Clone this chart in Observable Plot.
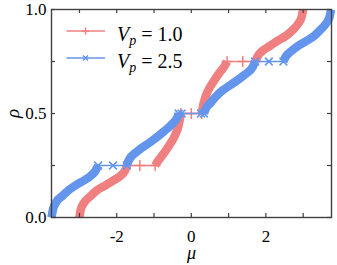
<!DOCTYPE html>
<html><head><meta charset="utf-8">
<script src="https://cdn.jsdelivr.net/npm/d3@7"></script>
<script src="https://cdn.jsdelivr.net/npm/@observablehq/plot@0.6"></script>
<style>
body{margin:0;background:#fff;}
#wrap{position:relative;width:337px;height:265px;overflow:hidden;}
#wrap svg text{font-family:"Liberation Serif","Times New Roman","DejaVu Serif",serif !important;}
.legline{position:absolute;left:64px;}
.legtxt{position:absolute;left:117px;font-family:"Liberation Serif","Times New Roman",serif;font-size:20px;line-height:20px;white-space:nowrap;color:#000;}
.legtxt i{font-style:italic;}
.legtxt .sub{font-style:italic;font-size:14px;position:relative;top:4px;}
</style></head><body><div id="wrap"></div>
<script>
// ---- data ----
const seriesLabels = ["1.0", "2.5"];
const seriesColors = ["#f08080", "#6495ed"];
const seriesSymbols = ["plus", "times"];
const plateauLevels = [0.25, 0.5, 0.75];

// Vp = 1.0 : continuous (dense) pieces, [mu, rho]
const redBand1 = [[-3.0,0],[-2.97,0.035],[-2.88,0.07],[-2.72,0.1],[-2.55,0.128],[-2.3,0.155],[-2.1,0.177],[-1.9,0.2],[-1.78,0.225],[-1.72,0.25]];
const redBand2 = [[-0.97,0.25],[-0.9,0.27],[-0.75,0.305],[-0.6,0.345],[-0.45,0.39],[-0.33,0.45],[-0.28,0.5]];
const redBand3 = [[0.28,0.5],[0.33,0.55],[0.45,0.61],[0.6,0.655],[0.75,0.695],[0.9,0.73],[0.96,0.75]];
const redBand4 = [[1.72,0.75],[1.78,0.775],[1.9,0.8],[2.1,0.824],[2.32,0.85],[2.55,0.875],[2.74,0.905],[2.88,0.935],[2.96,0.965],[3.0,1.0]];
// Vp = 1.0 : sparse points on the plateaus (mu), one list per plateau level
const redPlateauMu = [[-1.72,-1.38,-0.97],[-0.28,0,0.28],[0.96,1.38,1.72]];

// Vp = 2.5
const blueBand1 = [[-3.75,0],[-3.71,0.04],[-3.62,0.075],[-3.45,0.105],[-3.3,0.13],[-3.1,0.155],[-2.88,0.178],[-2.7,0.2],[-2.57,0.225],[-2.5,0.25]];
const blueBand2 = [[-1.73,0.25],[-1.68,0.275],[-1.45,0.318],[-1.1,0.362],[-0.73,0.415],[-0.5,0.452],[-0.38,0.48],[-0.34,0.5]];
const blueBand3 = [[0.34,0.5],[0.38,0.52],[0.5,0.548],[0.75,0.598],[1.1,0.643],[1.42,0.685],[1.65,0.725],[1.71,0.75]];
const blueBand4 = [[2.47,0.75],[2.54,0.775],[2.68,0.8],[2.86,0.825],[3.1,0.85],[3.3,0.874],[3.45,0.9],[3.6,0.93],[3.7,0.96],[3.75,1.0]];
const bluePlateauMu = [[-2.5,-2.1,-1.73],[-0.34,-0.26,0.26,0.34],[1.71,2.08,2.47]];

const xTicksMajor = [-2, 0, 2];
const xTicksAll = [-3, -2, -1, 0, 1, 2, 3];
const yTicksMajor = [0, 0.5, 1];
const yTicksAll = [0, 0.25, 0.5, 0.75, 1];

// ---- tables ----
const bands = [];
[[redBand1, redBand2, redBand3, redBand4], [blueBand1, blueBand2, blueBand3, blueBand4]].forEach((segs, s) =>
  segs.forEach((seg, k) => seg.forEach(([mu, rho]) => bands.push({mu, rho, s, seg: s * 10 + k}))));
const plateaus = [];
[redPlateauMu, bluePlateauMu].forEach((levels, s) =>
  levels.forEach((mus, k) => mus.forEach(mu => plateaus.push({mu, rho: plateauLevels[k], s, seg: s * 10 + k}))));

const W = 337, H = 265, mL = 51, mR = 6, mT = 9, mB = 48;
const pw = W - mL - mR, ph = H - mT - mB;
const font = "'Liberation Serif', 'Times New Roman', serif";
const axisCol = "#404040";

const marks = [];
for (let s = 0; s < 2; s++) {
  const b = bands.filter(d => d.s === s), p = plateaus.filter(d => d.s === s);
  marks.push(Plot.line(p, {x: "mu", y: "rho", z: "seg", stroke: seriesColors[s], strokeWidth: 1.5}));
  marks.push(Plot.dot(p, {x: "mu", y: "rho", symbol: seriesSymbols[s], r: 3.6, stroke: seriesColors[s], strokeWidth: 1.5}));
  marks.push(Plot.line(b, {x: "mu", y: "rho", z: "seg", stroke: seriesColors[s], strokeWidth: 8.5, curve: "monotone-x", strokeLinecap: "butt"}));
}
marks.push(
  Plot.ruleX(xTicksAll, {x: d => d, insetTop: ph - 4, stroke: axisCol, strokeWidth: 1.2}),
  Plot.ruleX(xTicksAll, {x: d => d, insetBottom: ph - 4, stroke: axisCol, strokeWidth: 1.2}),
  Plot.ruleY(yTicksAll, {y: d => d, insetRight: pw - 4, stroke: axisCol, strokeWidth: 1.2}),
  Plot.ruleY(yTicksAll, {y: d => d, insetLeft: pw - 4, stroke: axisCol, strokeWidth: 1.2}),
  Plot.frame({stroke: axisCol, strokeWidth: 1.4}),
  Plot.axisX(xTicksMajor, {tickSize: 0, tickPadding: 12, tickFormat: d => String(d), fontSize: 17, fill: "#000", label: null}),
  Plot.axisY(yTicksMajor, {tickSize: 0, tickPadding: 5, tickFormat: d3.format(".1f"), fontSize: 17, fill: "#000", label: null}),
  Plot.text(["μ"], {frameAnchor: "bottom", lineAnchor: "middle", dy: 36, text: d => d, fontStyle: "italic", fontSize: 18, fill: "#000"}),
  Plot.text(["ρ"], {frameAnchor: "left", lineAnchor: "middle", textAnchor: "middle", dx: -39, rotate: -90, text: d => d, fontStyle: "italic", fontSize: 19, fill: "#000"})
);

const chart = Plot.plot({
  width: W, height: H,
  marginLeft: mL, marginRight: mR, marginTop: mT, marginBottom: mB,
  style: {fontFamily: font, fontSize: "17px", background: "#fff", overflow: "visible"},
  x: {domain: [-3.75, 3.76], axis: null},
  y: {domain: [0, 1], axis: null},
  marks
});
const wrap = document.getElementById("wrap");
wrap.appendChild(chart);

// legend (inside axes, upper left)
const legRows = [31, 58.3];
seriesLabels.forEach((lab, s) => {
  const y = legRows[s];
  const sw = document.createElementNS("http://www.w3.org/2000/svg", "svg");
  sw.setAttribute("width", 44); sw.setAttribute("height", 12);
  sw.setAttribute("class", "legline");
  sw.style.left = "65px"; sw.style.top = (y - 6) + "px";
  const c = seriesColors[s];
  const sym = s === 0
    ? `<path d="M20.5,2.4V9.6M16.9,6H24.1" stroke="${c}" stroke-width="1.5" fill="none"/>`
    : `<path d="M18,3.5L23,8.5M18,8.5L23,3.5" stroke="${c}" stroke-width="1.5" fill="none"/>`;
  sw.innerHTML = `<line x1="1.5" x2="40" y1="6" y2="6" stroke="${c}" stroke-width="1.5"/>` + sym;
  wrap.appendChild(sw);
  const t = document.createElement("div");
  t.className = "legtxt";
  t.style.top = (y + 9 - 16.5) + "px";
  t.innerHTML = `<i>V</i><span class="sub">p</span> = ${lab}`;
  wrap.appendChild(t);
});
</script></body></html>
